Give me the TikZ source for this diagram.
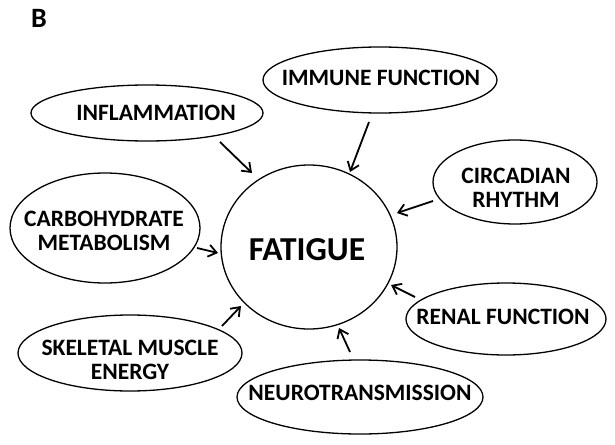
\documentclass[tikz,border=0pt]{standalone}
\usepackage{fontspec}
\setmainfont{Carlito}
\usetikzlibrary{shapes.geometric,arrows.meta}
\begin{document}
\begin{tikzpicture}[x=1pt,y=-1pt,
  oval/.style={draw,ellipse,line width=1.3pt,inner sep=0pt},
  lbl/.style={font=\bfseries\fontsize{23.5}{24.5}\selectfont,align=center,inner sep=0pt},
  arr/.style={line width=1.8pt,-{Straight Barb[length=8pt,width=12pt,line width=1.8pt]}}]
\useasboundingbox (0,0) rectangle (615,444);
\node[font=\bfseries\fontsize{28}{30}\selectfont,inner sep=0pt] (B) at (39,18) {B};
% central
\node[oval,minimum width=176pt,minimum height=164pt] (fat) at (309,247) {};
\node[font=\bfseries\fontsize{33.5}{36}\selectfont,inner sep=0pt] (fatt) at (307,250) {FATIGUE};
% ellipses
\node[oval,minimum width=232pt,minimum height=56pt] (inf) at (147,113) {};
\node[lbl] (inft) at (156,113) {INFLAMMATION};
\node[oval,minimum width=234pt,minimum height=66pt] (imm) at (380,80) {};
\node[lbl] (immt) at (381,78) {IMMUNE FUNCTION};
\node[oval,minimum width=164pt,minimum height=84pt] (cir) at (515,182) {};
\node[lbl] (cirt) at (516,188) {CIRCADIAN\\RHYTHM};
\node[oval,minimum width=190pt,minimum height=110pt] (car) at (105,228) {};
\node[lbl] (cart) at (104,231) {CARBOHYDRATE\\METABOLISM};
\node[oval,minimum width=224pt,minimum height=76pt] (ske) at (130,353) {};
\node[lbl] (sket) at (130,360) {SKELETAL MUSCLE\\ENERGY};
\node[oval,minimum width=246pt,minimum height=74pt] (neu) at (360,397) {};
\node[lbl] (neut) at (360,393) {NEUROTRANSMISSION};
\node[oval,minimum width=200pt,minimum height=72pt] (ren) at (506,319) {};
\node[lbl] (rent) at (503,317) {RENAL FUNCTION};
% arrow endpoints
\coordinate (infs) at (220,142); \coordinate (infe) at (252,173);
\coordinate (imms) at (369,122); \coordinate (imme) at (350,172);
\coordinate (cirs) at (433,201); \coordinate (cire) at (397,213);
\coordinate (cars) at (197,248); \coordinate (care) at (218,253);
\coordinate (skes) at (222,326); \coordinate (skee) at (241,306);
\coordinate (neus) at (350,352); \coordinate (neue) at (339,328);
\coordinate (rens) at (415,297); \coordinate (rene) at (391,285);
\draw[arr] (infs) -- (infe);
\draw[arr] (imms) -- (imme);
\draw[arr] (cirs) -- (cire);
\draw[arr] (cars) -- (care);
\draw[arr] (skes) -- (skee);
\draw[arr] (neus) -- (neue);
\draw[arr] (rens) -- (rene);
\end{tikzpicture}
\end{document}
